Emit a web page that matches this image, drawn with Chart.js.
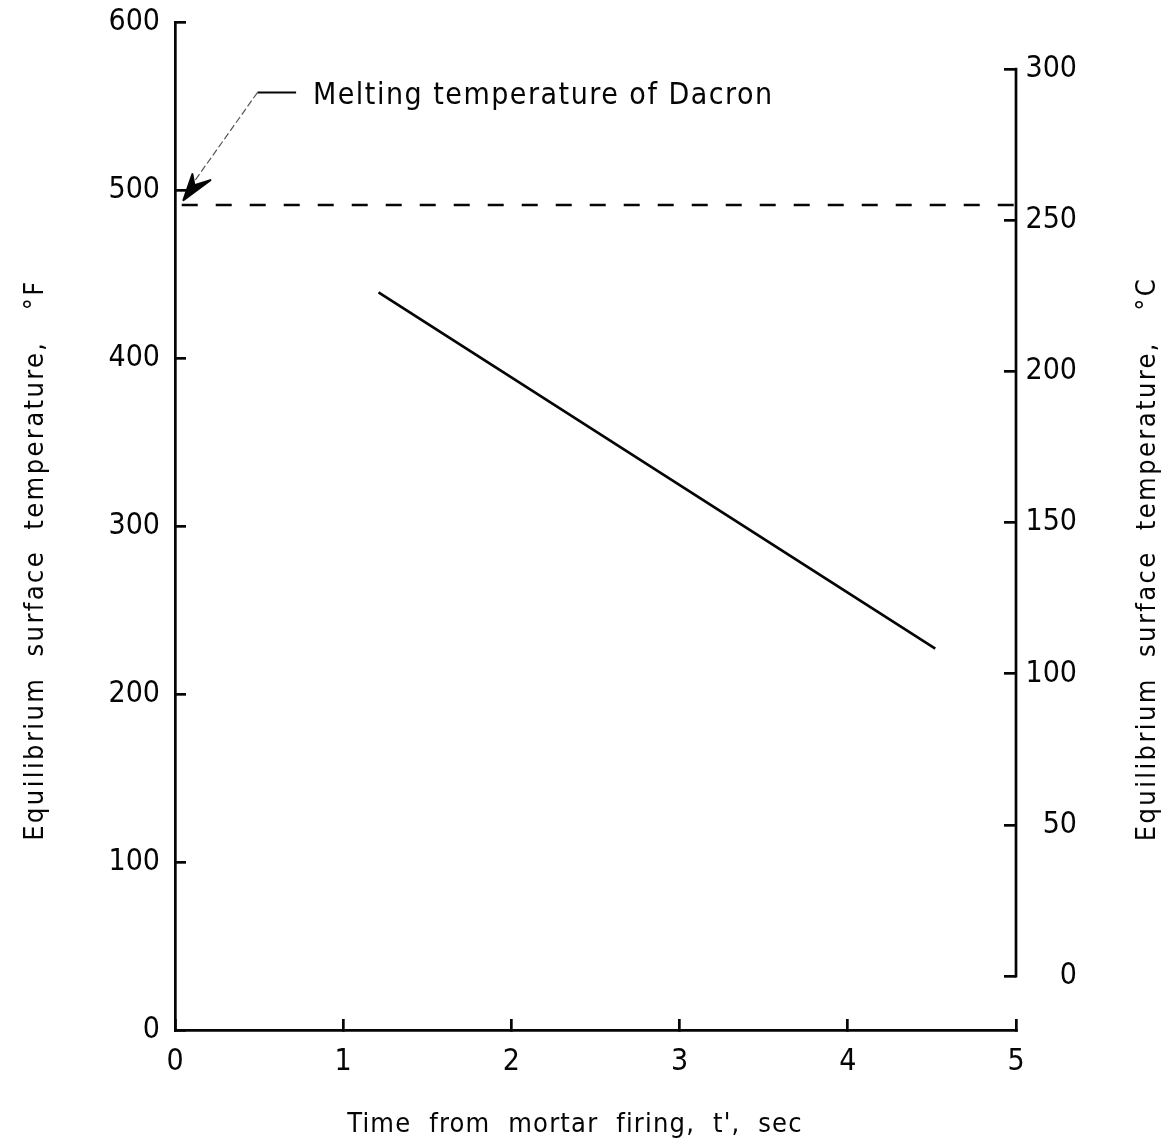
<!DOCTYPE html>
<html>
<head>
<meta charset="utf-8">
<script src="https://cdn.jsdelivr.net/npm/chart.js@4.4.1/dist/chart.umd.min.js"></script>
<style>
  html, body { margin: 0; padding: 0; background: #fff; }
  #wrap { width: 1171px; height: 1146px; }
</style>
</head>
<body>
<div id="wrap"><canvas id="c" width="1171" height="1146"></canvas></div>
<script>
// Axis ticks
const timeTicks = [0, 1, 2, 3, 4, 5];                      // sec
const fahrenheitTicks = [0, 100, 200, 300, 400, 500, 600];  // deg F
const celsiusTicks = [0, 50, 100, 150, 200, 250, 300];      // deg C

// Equilibrium surface temperature vs. time from mortar firing
const lineTime = [1.21, 4.52];
const lineTempF = [439, 227];

// Melting temperature of Dacron (deg F) and the span it is drawn over (sec)
const meltTempF = 491;
const meltSpan = [0.04, 5];

// Callout: arrow tip, leader elbow, leader end, text anchor (sec, deg F)
const calloutTime = [0.05, 0.49, 0.72, 0.82];
const calloutTempF = [494, 558, 558, 551];

const meltLabel = 'Melting temperature of Dacron';
const xTitle = "Time  from  mortar  firing,  t',  sec";
const yTitleF = 'Equilibrium  surface  temperature,   \u00B0F';
const yTitleC = 'Equilibrium  surface  temperature,   \u00B0C';

const FONT = "'DejaVu Sans Condensed', 'DejaVu Sans', sans-serif";
const INK = '#050505';
const AXIS_W = 2.7;

const fToC = f => (f - 32) * 5 / 9;
const pts = (xs, ys) => xs.map((v, i) => ({ x: v, y: ys[i] }));

function spacedText(ctx, text, x, y, spacing) {
  ctx.letterSpacing = spacing + 'px';
  ctx.fillText(text, x, y);
  ctx.letterSpacing = '0px';
}

// Keep the plot box fixed: no extra room reserved for half-height end labels
const noEdgePadding = s => { s.paddingTop = 0; s.paddingBottom = 0; };

const extras = {
  id: 'extras',
  afterDraw(chart) {
    const { ctx, scales: { x, y, y2 } } = chart;
    ctx.save();
    ctx.strokeStyle = INK;
    ctx.fillStyle = INK;

    // Celsius axis line, drawn only across its labelled range
    ctx.lineWidth = AXIS_W;
    const xr = y2.left;
    ctx.beginPath();
    ctx.moveTo(xr, y2.getPixelForValue(celsiusTicks[0]) + AXIS_W / 2);
    ctx.lineTo(xr, y2.getPixelForValue(celsiusTicks[celsiusTicks.length - 1]) - AXIS_W / 2);
    ctx.stroke();

    // Callout leader
    const P = calloutTime.map((t, i) => [x.getPixelForValue(t), y.getPixelForValue(calloutTempF[i])]);
    ctx.lineWidth = 2;
    ctx.beginPath();
    ctx.moveTo(P[1][0], P[1][1]);
    ctx.lineTo(P[2][0], P[2][1]);
    ctx.stroke();

    ctx.save();
    ctx.lineWidth = 1.2;
    ctx.strokeStyle = '#555';
    ctx.setLineDash([7, 3]);
    ctx.beginPath();
    ctx.moveTo(P[1][0], P[1][1]);
    ctx.lineTo(P[0][0] + 9, P[0][1] - 16);
    ctx.stroke();
    ctx.restore();

    // Arrowhead
    const [ax, ay] = P[0];
    ctx.lineWidth = 2;
    ctx.lineJoin = 'round';
    ctx.beginPath();
    ctx.moveTo(ax, ay);
    ctx.lineTo(ax + 9, ay - 26);
    ctx.lineTo(ax + 11, ay - 15);
    ctx.lineTo(ax + 27, ay - 20);
    ctx.closePath();
    ctx.fill();
    ctx.stroke();

    // Callout text
    ctx.font = `30px ${FONT}`;
    ctx.textAlign = 'left';
    ctx.textBaseline = 'alphabetic';
    spacedText(ctx, meltLabel, P[3][0], P[3][1], 1.5);

    // Axis titles
    ctx.font = `27px ${FONT}`;
    ctx.textAlign = 'center';
    spacedText(ctx, xTitle, 575, 1132, 1.2);

    ctx.save();
    ctx.translate(43, 560);
    ctx.rotate(-Math.PI / 2);
    spacedText(ctx, yTitleF, 0, 0, 2.4);
    ctx.restore();

    ctx.save();
    ctx.translate(1155, 559);
    ctx.rotate(-Math.PI / 2);
    spacedText(ctx, yTitleC, 0, 0, 2.4);
    ctx.restore();

    ctx.restore();
  }
};

const tickFont = { family: FONT, size: 30 };

new Chart(document.getElementById('c'), {
  type: 'line',
  data: {
    datasets: [
      {
        data: pts(lineTime, lineTempF),
        borderColor: INK,
        borderWidth: 2.7,
        pointRadius: 0,
        tension: 0,
        yAxisID: 'y'
      },
      {
        data: pts(meltSpan, [meltTempF, meltTempF]),
        borderColor: INK,
        borderWidth: 2.5,
        borderDash: [16, 18],
        pointRadius: 0,
        tension: 0,
        yAxisID: 'y'
      }
    ]
  },
  options: {
    responsive: false,
    animation: false,
    events: [],
    layout: { padding: { top: 22, left: 0, right: 94, bottom: 0 } },
    plugins: { legend: { display: false }, tooltip: { enabled: false } },
    scales: {
      x: {
        type: 'linear',
        position: 'bottom',
        min: 0,
        max: 5,
        afterBuildTicks: s => { s.ticks = timeTicks.map(v => ({ value: v })); },
        afterFit: s => { s.height = 116; s.paddingLeft = 0; s.paddingRight = 0; },
        border: { display: true, color: INK, width: AXIS_W },
        grid: { drawOnChartArea: false, drawTicks: true, tickLength: -11, color: INK, lineWidth: AXIS_W },
        ticks: { color: INK, font: tickFont, padding: 25, maxRotation: 0, autoSkip: false }
      },
      y: {
        type: 'linear',
        position: 'left',
        min: 0,
        max: 600,
        afterBuildTicks: s => { s.ticks = fahrenheitTicks.map(v => ({ value: v })); },
        afterFit: s => { s.width = 175; noEdgePadding(s); },
        border: { display: true, color: INK, width: AXIS_W },
        grid: { drawOnChartArea: false, drawTicks: true, tickLength: -11, color: INK, lineWidth: AXIS_W },
        ticks: { color: INK, font: tickFont, padding: 26, autoSkip: false }
      },
      y2: {
        type: 'linear',
        position: 'right',
        min: fToC(0),
        max: fToC(600),
        afterBuildTicks: s => { s.ticks = celsiusTicks.map(v => ({ value: v })); },
        afterFit: s => { s.width = 61; noEdgePadding(s); },
        border: { display: false },
        grid: { drawOnChartArea: false, drawTicks: true, tickLength: -12, color: INK, lineWidth: AXIS_W },
        ticks: { color: INK, font: tickFont, padding: 26, crossAlign: 'far', autoSkip: false }
      }
    }
  },
  plugins: [extras]
});
</script>
</body>
</html>
